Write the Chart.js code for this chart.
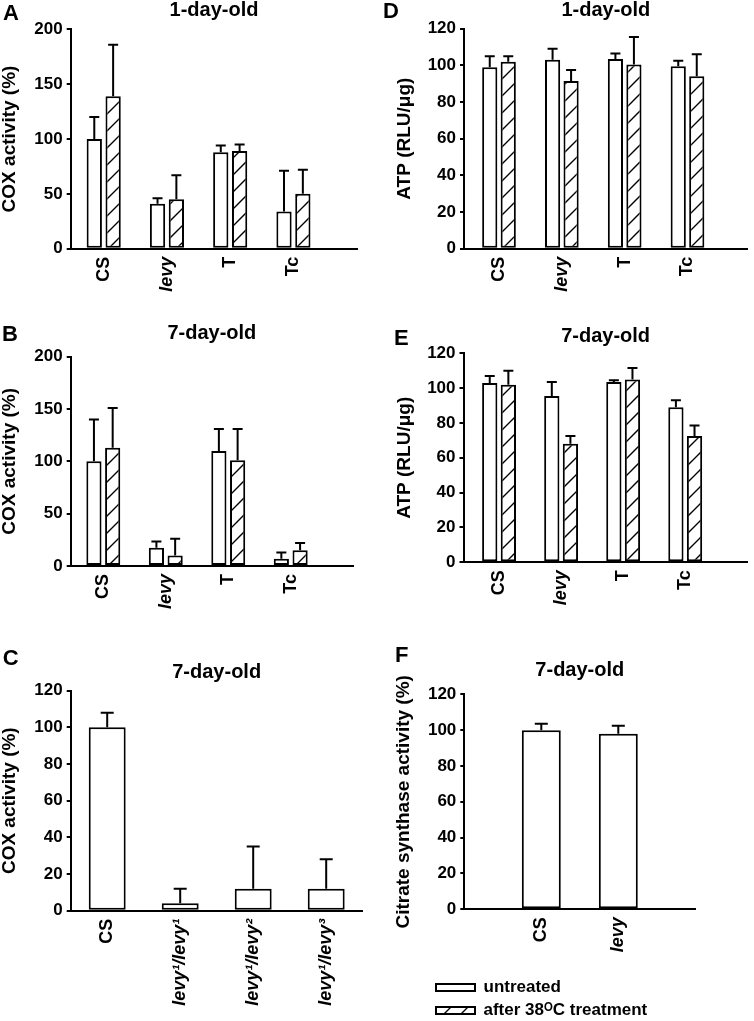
<!DOCTYPE html>
<html><head><meta charset="utf-8">
<script src="https://cdn.jsdelivr.net/npm/chart.js@4.4.0/dist/chart.umd.min.js"></script>
<style>
html,body{margin:0;padding:0;background:#fff;}
#wrap{position:relative;width:754px;height:1021px;overflow:hidden;background:#fff;}
#wrap canvas{position:absolute;}
</style></head><body><div id="wrap"></div>
<script>
// ---------------- data ----------------
const groupLabels = ['CS', 'levy', 'T', 'Tc'];
const seriesNames = ['untreated', 'after 38ᴼC treatment'];

const coxDay1Untreated    = [100, 41, 88, 34];
const coxDay1UntreatedErr = [20, 5, 6, 37];
const coxDay1Treated      = [139, 45, 89, 50];
const coxDay1TreatedErr   = [47, 22, 6, 22];

const coxDay7Untreated    = [100, 17.5, 110, 7];
const coxDay7UntreatedErr = [40, 6, 21, 6];
const coxDay7Treated      = [113, 10, 101, 15];
const coxDay7TreatedErr   = [38, 16, 30, 7];

const alleleLabels  = ['CS', 'levy¹/levy¹', 'levy¹/levy²', 'levy¹/levy³'];
const coxAlleles    = [100, 4, 12, 12];
const coxAllelesErr = [8, 8, 23, 16];

const atpDay1Untreated    = [99, 103, 103.5, 99.5];
const atpDay1UntreatedErr = [6, 6, 3, 3];
const atpDay1Treated      = [102, 91.5, 100.5, 94];
const atpDay1TreatedErr   = [3, 6, 15, 12];

const atpDay7Untreated    = [103, 95.5, 103.5, 89];
const atpDay7UntreatedErr = [4, 8, 1, 4];
const atpDay7Treated      = [102, 68, 105, 72.5];
const atpDay7TreatedErr   = [8, 4.5, 6.5, 6];

const csLabels      = ['', 'CS', 'levy', ''];
const csActivity    = [null, 100, 98, null];
const csActivityErr = [null, 3.5, 4.5, null];

// ---------------- helpers ----------------
const FAM = "'Liberation Sans', Arial, Helvetica, sans-serif";
Chart.defaults.font.family = FAM;
Chart.defaults.color = '#000';

function makeHatch() {
  const s = 17;
  const c = document.createElement('canvas');
  c.width = s; c.height = s;
  const g = c.getContext('2d');
  g.fillStyle = '#fff'; g.fillRect(0, 0, s, s);
  g.strokeStyle = '#000'; g.lineWidth = 1.4;
  g.beginPath();
  g.moveTo(-1, s + 1); g.lineTo(s + 1, -1);
  g.moveTo(-1, 1); g.lineTo(1, -1);
  g.moveTo(s - 1, s + 1); g.lineTo(s + 1, s - 1);
  g.stroke();
  return g.createPattern(c, 'repeat');
}

const errorBarPlugin = {
  id: 'errorBars',
  afterDatasetsDraw(chart, args, opts) {
    const ctx = chart.ctx;
    const yScale = chart.scales.y;
    if (!yScale) return;
    chart.data.datasets.forEach((ds, di) => {
      if (!ds.errors) return;
      const meta = chart.getDatasetMeta(di);
      meta.data.forEach((bar, i) => {
        const raw = ds.data[i];
        const v = (raw && typeof raw === 'object') ? raw.y : raw;
        const e = ds.errors[i];
        if (v == null || e == null) return;
        const yTop = yScale.getPixelForValue(v + e);
        const yBase = yScale.getPixelForValue(v);
        const cap = opts.cap || 10;
        ctx.save();
        ctx.strokeStyle = '#000';
        ctx.lineWidth = 2;
        ctx.beginPath();
        ctx.moveTo(bar.x, yBase); ctx.lineTo(bar.x, yTop);
        ctx.moveTo(bar.x - cap / 2, yTop); ctx.lineTo(bar.x + cap / 2, yTop);
        ctx.stroke();
        ctx.restore();
      });
    });
  }
};

const letterPlugin = {
  id: 'panelLetter',
  afterDraw(chart, args, opts) {
    if (!opts.text) return;
    const ctx = chart.ctx;
    ctx.save();
    ctx.font = 'bold 22px ' + FAM;
    ctx.fillStyle = '#000';
    ctx.textAlign = 'left';
    ctx.textBaseline = 'alphabetic';
    ctx.fillText(opts.text, opts.x, opts.y);
    ctx.restore();
  }
};
Chart.register(errorBarPlugin, letterPlugin);

const wrap = document.getElementById('wrap');
function addCanvas(x, y, w, h) {
  const c = document.createElement('canvas');
  c.width = w; c.height = h;
  c.style.left = x + 'px'; c.style.top = y + 'px';
  c.style.width = w + 'px'; c.style.height = h + 'px';
  wrap.appendChild(c);
  return c;
}

function tickFont(ctx) {
  const lab = ctx.tick && ctx.tick.label;
  const it = typeof lab === 'string' && lab.indexOf('levy') === 0;
  return { family: FAM, size: 18, weight: 'bold', style: it ? 'italic' : 'normal' };
}

const HATCH = makeHatch();
const TITLE_LH = 20;   // title font size 20, lineHeight 1
const YT_LH = 19;      // y axis title size 19, lineHeight 1

function buildOptions(cfg, xScale) {
  const [cx, cy, cw, ch] = cfg.rect;
  const [L, T, R, B] = cfg.area;
  const tPadTop = cfg.titleY - cy - TITLE_LH / 2;
  const tPadBottom = (T - cy) - tPadTop - TITLE_LH;
  return {
    responsive: false,
    devicePixelRatio: 1,
    animation: false,
    layout: { padding: { left: 0, top: 0, bottom: 0, right: (cx + cw) - R } },
    scales: {
      x: Object.assign(xScale, {
        grid: { display: false, drawTicks: false },
        border: { display: true, color: '#000', width: 2 },
        afterFit: s => { s.height = (cy + ch) - B; }
      }),
      y: {
        min: 0, max: cfg.ymax,
        ticks: { stepSize: cfg.ystep, color: '#000', padding: 4, font: { size: 17, weight: 'bold' } },
        grid: { display: true, drawOnChartArea: false, drawTicks: true, tickLength: 4, color: '#000', lineWidth: 2 },
        border: { display: true, color: '#000', width: 2 },
        title: { display: true, text: cfg.yTitle, color: '#000',
                 font: { size: 19, weight: 'bold', lineHeight: 1 },
                 padding: { top: cfg.yTitleX - cx - YT_LH / 2, bottom: 0 } },
        afterFit: s => { s.width = L - cx; }
      }
    },
    plugins: {
      legend: { display: false },
      tooltip: { enabled: false },
      title: { display: true, text: cfg.title, fullSize: false, color: '#000',
               font: { size: 20, weight: 'bold', lineHeight: 1 },
               padding: { top: tPadTop, bottom: tPadBottom } },
      errorBars: { cap: cfg.cap },
      panelLetter: { text: cfg.letter, x: cfg.letterPos[0], y: cfg.letterPos[1] }
    }
  };
}

function groupedPanel(cfg) {
  const [cx, cy, cw, ch] = cfg.rect;
  const canvas = addCanvas(cx, cy, cw, ch);
  const mk = (vals, errs, k) => ({
    label: seriesNames[k],
    data: vals.map((v, i) => ({ x: i, y: v })),
    errors: errs,
    backgroundColor: k ? HATCH : '#fff',
    borderColor: '#000',
    borderWidth: 2,
    borderSkipped: false,
    categoryPercentage: cfg.catPct,
    barPercentage: cfg.barPct
  });
  const xScale = {
    type: 'linear', min: cfg.xmin, max: cfg.xmax, offset: false,
    afterBuildTicks: s => { s.ticks = groupLabels.map((_, i) => ({ value: i })); },
    ticks: { autoSkip: false, minRotation: 90, maxRotation: 90, padding: 8, color: '#000',
             callback: v => (groupLabels[v] !== undefined ? groupLabels[v] : ''),
             font: tickFont }
  };
  return new Chart(canvas, {
    type: 'bar',
    data: { datasets: [mk(cfg.s1, cfg.e1, 0), mk(cfg.s2, cfg.e2, 1)] },
    options: buildOptions(cfg, xScale)
  });
}

function singlePanel(cfg) {
  const [cx, cy, cw, ch] = cfg.rect;
  const canvas = addCanvas(cx, cy, cw, ch);
  const xScale = {
    type: 'category', offset: cfg.offset,
    ticks: { autoSkip: false, minRotation: 90, maxRotation: 90, padding: 8, color: '#000', font: tickFont }
  };
  return new Chart(canvas, {
    type: 'bar',
    data: {
      labels: cfg.labels,
      datasets: [{
        label: seriesNames[0], data: cfg.values, errors: cfg.errs,
        backgroundColor: '#fff', borderColor: '#000', borderWidth: 2, borderSkipped: false,
        categoryPercentage: 1, barPercentage: cfg.barPct
      }]
    },
    options: buildOptions(cfg, xScale)
  });
}

// Panel A
groupedPanel({
  rect: [0, 0, 377, 300], area: [70.7, 29.3, 357.3, 248.7],
  xmin: -0.522, xmax: 4.01, ymax: 200, ystep: 50,
  yTitle: 'COX activity (%)', yTitleX: 10, title: '1-day-old', titleY: 10.5,
  letter: 'A', letterPos: [3, 20],
  s1: coxDay1Untreated, e1: coxDay1UntreatedErr, s2: coxDay1Treated, e2: coxDay1TreatedErr,
  catPct: 0.596, barPct: 0.81, cap: 10
});
// Panel B
groupedPanel({
  rect: [0, 300, 377, 330], area: [70.7, 356.7, 353, 566],
  xmin: -0.522, xmax: 3.997, ymax: 200, ystep: 50,
  yTitle: 'COX activity (%)', yTitleX: 10, title: '7-day-old', titleY: 333,
  letter: 'B', letterPos: [2, 40.7],
  s1: coxDay7Untreated, e1: coxDay7UntreatedErr, s2: coxDay7Treated, e2: coxDay7TreatedErr,
  catPct: 0.6, barPct: 0.81, cap: 10
});
// Panel C
singlePanel({
  rect: [0, 630, 377, 391], area: [70.7, 690.7, 362.7, 910.7],
  ymax: 120, ystep: 20, offset: true,
  yTitle: 'COX activity (%)', yTitleX: 10, title: '7-day-old', titleY: 672.5,
  letter: 'C', letterPos: [2.7, 35],
  labels: alleleLabels, values: coxAlleles, errs: coxAllelesErr, barPct: 0.506, cap: 13
});
// Panel D
groupedPanel({
  rect: [377, 0, 377, 300], area: [464, 28.7, 747.7, 248.7],
  xmin: -0.557, xmax: 3.958, ymax: 120, ystep: 20,
  yTitle: 'ATP (RLU/μg)', yTitleX: 404.5, title: '1-day-old', titleY: 10,
  letter: 'D', letterPos: [6, 18.3],
  s1: atpDay1Untreated, e1: atpDay1UntreatedErr, s2: atpDay1Treated, e2: atpDay1TreatedErr,
  catPct: 0.589, barPct: 0.82, cap: 10
});
// Panel E
groupedPanel({
  rect: [377, 300, 377, 330], area: [463.5, 353.3, 747.7, 562.3],
  xmin: -0.573, xmax: 4.007, ymax: 120, ystep: 20,
  yTitle: 'ATP (RLU/μg)', yTitleX: 405, title: '7-day-old', titleY: 336.7,
  letter: 'E', letterPos: [17, 45],
  s1: atpDay7Untreated, e1: atpDay7UntreatedErr, s2: atpDay7Treated, e2: atpDay7TreatedErr,
  catPct: 0.6, barPct: 0.82, cap: 10
});
// Panel F
singlePanel({
  rect: [377, 630, 377, 335], area: [464.3, 694.3, 695.3, 909.3],
  ymax: 120, ystep: 20, offset: false,
  yTitle: 'Citrate synthase activity (%)', yTitleX: 403.5, title: '7-day-old', titleY: 670.8,
  letter: 'F', letterPos: [18, 31.7],
  labels: csLabels, values: csActivity, errs: csActivityErr, barPct: 0.506, cap: 13
});

// Legend (tall canvas so both rows fit; the part below the page is clipped)
(function () {
  const canvas = addCanvas(420, 970, 300, 140);
  new Chart(canvas, {
    type: 'bar',
    data: {
      labels: [],
      datasets: [
        { label: seriesNames[0], data: [], backgroundColor: '#fff', borderColor: '#000', borderWidth: 2 },
        { label: seriesNames[1], data: [], backgroundColor: HATCH, borderColor: '#000', borderWidth: 2 }
      ]
    },
    options: {
      responsive: false, devicePixelRatio: 1, animation: false,
      layout: { padding: { left: 10, top: 3, right: 0, bottom: 0 } },
      scales: { x: { display: false }, y: { display: false } },
      plugins: {
        tooltip: { enabled: false },
        legend: {
          display: true, position: 'top', align: 'start',
          labels: { boxWidth: 39, boxHeight: 7, padding: 6, color: '#000',
                    font: { size: 17, weight: 'bold' } }
        }
      }
    }
  });
})();
</script>
</body></html>
